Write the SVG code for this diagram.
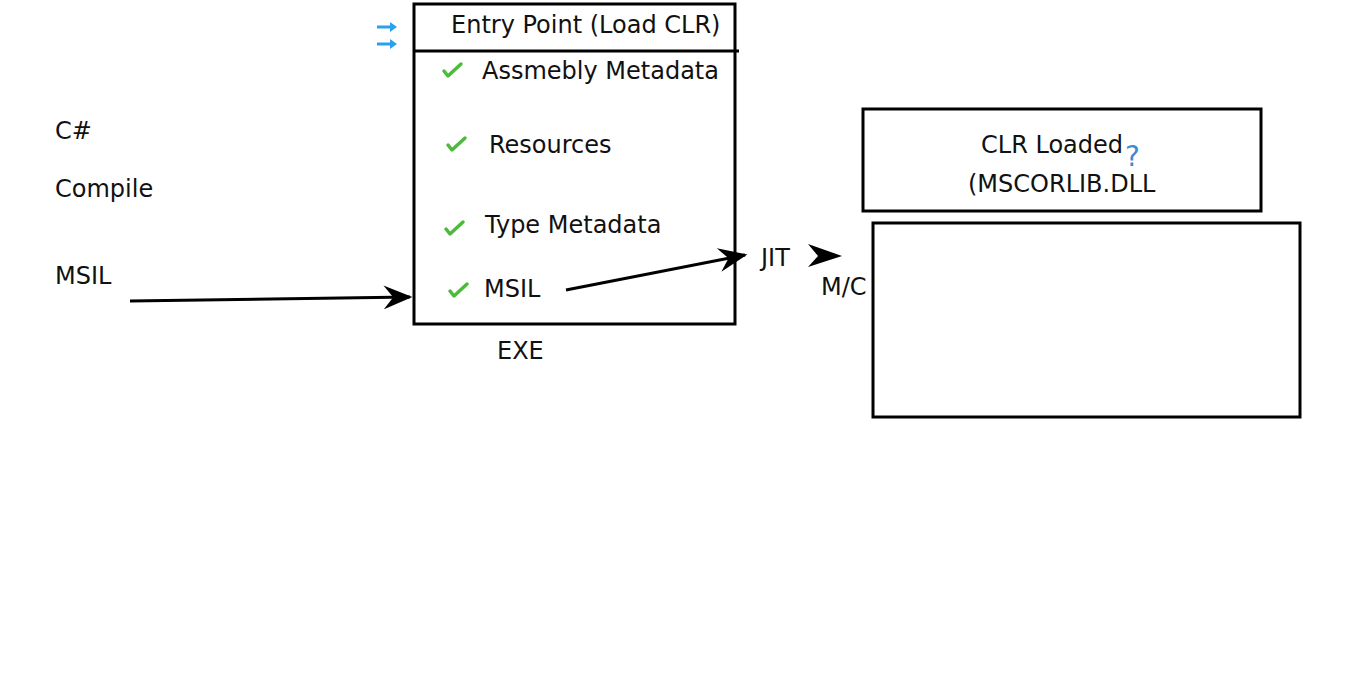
<svg xmlns="http://www.w3.org/2000/svg" width="1366" height="697" viewBox="0 0 1366 697">
<style>
text{font-family:"DejaVu Sans",Verdana,sans-serif;font-size:24px;fill:#111}
.box{fill:none;stroke:#000;stroke-width:3}
.chk{fill:none;stroke:#4cbb3c;stroke-width:3.5;stroke-linecap:round;stroke-linejoin:round}
.conn{fill:none;stroke:#000;stroke-width:3}
.blue{fill:#2aa0f0}
</style>
<defs>
<marker id="ahl" viewBox="0 0 12 10" refX="11" refY="5" markerWidth="36" markerHeight="24" markerUnits="userSpaceOnUse" orient="auto">
<path d="M0,0 L12,5 L0,10 L4,5 Z" fill="#000"/>
</marker>
</defs>
<g id="left-labels">
<text x="55" y="139">C#</text>
<text x="55" y="197">Compile</text>
<text x="55" y="284">MSIL</text>
</g>
<g id="exe">
<rect class="box" x="414" y="4" width="321" height="320"/>
<line class="box" x1="414" y1="51" x2="739" y2="51"/>
<text x="451" y="33">Entry Point (Load CLR)</text>
<path class="blue" d="M377,25.5 H390 V22 L397,27 L390,32 V28.5 H377 Z M377,42.5 H390 V39 L397,44 L390,49 V45.5 H377 Z"/>
<polyline class="chk" points="444,71 448,76 461,64"/>
<text x="482" y="79">Assmebly Metadata</text>
<polyline class="chk" points="448,145 452,150 465,138"/>
<text x="489" y="153">Resources</text>
<polyline class="chk" points="446,229 450,234 463,222"/>
<text x="485" y="233">Type Metadata</text>
<polyline class="chk" points="450,291 454,296 467,284"/>
<text x="484" y="297">MSIL</text>
<text x="497" y="359">EXE</text>
</g>
<g id="jit">
<text x="761" y="266">JIT</text>
<path d="M808,244 L842,256 L808,267 L818,256 Z" fill="#000"/>
<text x="821" y="295">M/C</text>
</g>
<g id="clr">
<rect class="box" x="863" y="109" width="398" height="102"/>
<text x="981" y="153">CLR Loaded</text>
<text x="1125" y="166" style="fill:#3d8bd0;font-size:28px">?</text>
<text x="968" y="192">(MSCORLIB.DLL</text>
</g>
<g id="mc">
<rect class="box" x="873" y="223" width="427" height="194"/>
</g>
<g id="connectors">
<line class="conn" x1="130" y1="301" x2="410" y2="297" marker-end="url(#ahl)"/>
<line class="conn" x1="566" y1="290" x2="745" y2="255" marker-end="url(#ahl)"/>
</g>
</svg>
